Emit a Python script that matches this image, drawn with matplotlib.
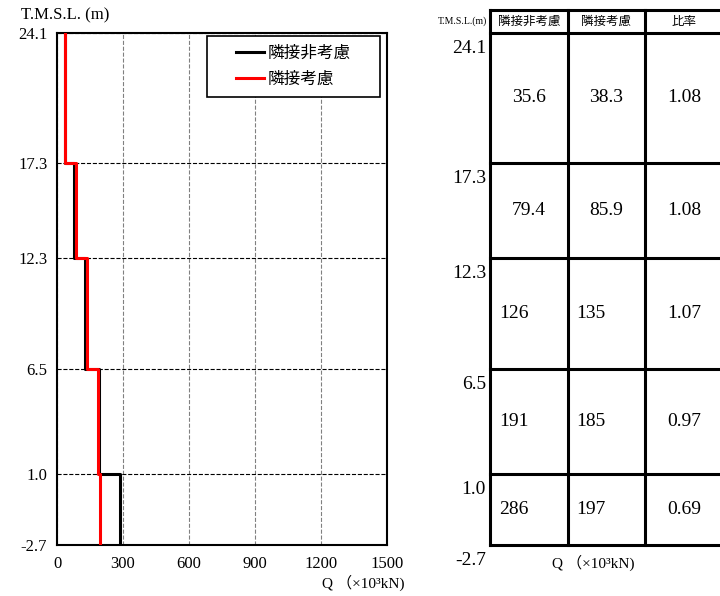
import numpy as np
import matplotlib
matplotlib.use("Agg")
import matplotlib.pyplot as plt
from matplotlib.patches import Rectangle

plt.rcParams['font.family'] = ['Liberation Serif', 'Noto Sans CJK JP']

# Data
levels = [24.1, 17.3, 12.3, 6.5, 1.0, -2.7]      # T.M.S.L. (m)
q_non_adjacent = [35.6, 79.4, 126, 191, 286]     # 隣接非考慮 (x10^3 kN)
q_adjacent = [38.3, 85.9, 135, 185, 197]         # 隣接考慮
ratio = [1.08, 1.08, 1.07, 0.97, 0.69]           # 比率
x_ticks = [0, 300, 600, 900, 1200, 1500]
series_names = ['隣接非考慮', '隣接考慮']
headers = ['隣接非考慮', '隣接考慮', '比率']

W, H = 720, 596
fig = plt.figure(figsize=(W / 100, H / 100), dpi=100)


def step_xy(vals):
    x = np.repeat(vals, 2)
    y = np.column_stack([levels[:-1], levels[1:]]).ravel()
    return x, y


# ---- left: shear force distribution
ax = fig.add_axes([57 / W, 1 - 545 / H, 330 / W, 512 / H])
x, y = step_xy(q_non_adjacent)
ax.plot(x, y, color='black', lw=2.2, label=series_names[0], zorder=3)
x, y = step_xy(q_adjacent)
ax.plot(x, y, color='red', lw=2.2, label=series_names[1], zorder=4)
ax.set_xlim(0, 1500)
ax.set_ylim(levels[-1], levels[0])
ax.set_xticks(x_ticks)
ax.set_yticks(levels)
ax.set_yticklabels([f"{v:.1f}" for v in levels])
ax.tick_params(length=0, labelsize=12)
ax.tick_params(axis='y', pad=7)
ax.tick_params(axis='x', pad=8)
ax.grid(axis='x', color='gray', linestyle='--', lw=0.8)
ax.grid(axis='y', color='black', linestyle='--', lw=0.8)
for s in ax.spines.values():
    s.set_linewidth(1.5)

# legend with a wide square frame
bx0, bx1, by0, by1 = (207 - 57) / 330, (380 - 57) / 330, 1 - (97 - 33) / 512, 1 - (36 - 33) / 512
ax.add_patch(Rectangle((bx0, by0), bx1 - bx0, by1 - by0, transform=ax.transAxes,
                       facecolor='white', edgecolor='black', lw=1.2, zorder=5))
leg = ax.legend(loc='center', bbox_to_anchor=((bx0 + bx1) / 2, (by0 + by1) / 2),
                fontsize=12, frameon=False, handlelength=1.7,
                handletextpad=0.2, labelspacing=0.6, borderpad=0)
leg.set_zorder(6)

fig.text(21 / W, 1 - 15 / H, 'T.M.S.L. (m)', fontsize=12, va='center')
fig.text(363 / W, 1 - 583 / H, 'Q （×10³kN)', fontsize=11, ha='center', va='center')

# ---- right: table aligned to the same elevations
tax = fig.add_axes([490 / W, 1 - 545 / H, 233 / W, 512 / H])
tax.set_xlim(0, 3)
tax.set_ylim(levels[-1], levels[0])
tax.axis('off')
px_m = 512 / (levels[0] - levels[-1])
col_px = 233 / 3
top = levels[0] + 23 / px_m
lw_t = 2.2
for lev in list(levels) + [top]:
    tax.plot([0, 3], [lev, lev], color='black', lw=lw_t, clip_on=False)
for c in range(4):
    tax.plot([c, c], [levels[-1], top], color='black', lw=lw_t, clip_on=False)

hdr_y = (top + levels[0]) / 2
for i, h in enumerate(headers):
    tax.text(i + 0.5, hdr_y, h, fontsize=9, ha='center', va='center')
tax.text(-3 / col_px, hdr_y, 'T.M.S.L.(m)', fontsize=7, ha='right', va='center')

for lev in levels:
    tax.text(-4 / col_px, lev - 7 / px_m, f"{lev:.1f}", fontsize=14,
             ha='right', va='top')

for r in range(len(ratio)):
    yc = (levels[r] + levels[r + 1]) / 2
    for c, v in enumerate([q_non_adjacent[r], q_adjacent[r]]):
        if r < 2:
            tax.text(c + 0.5, yc, f"{v:g}", fontsize=14, ha='center', va='center')
        else:
            tax.text(c + 9 / col_px, yc, f"{v:g}", fontsize=14, ha='left', va='center')
    tax.text(2.5, yc, f"{ratio[r]:.2f}", fontsize=14, ha='center', va='center')

tax.text(103 / col_px, levels[-1] - 18 / px_m, 'Q （×10³kN)', fontsize=11,
         ha='center', va='center', clip_on=False)

fig.savefig('out.png', dpi=100)
